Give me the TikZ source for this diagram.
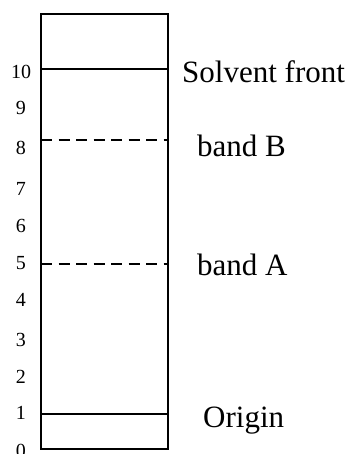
\documentclass[tikz,border=0pt]{standalone}
\usepackage{fontspec}
\setmainfont{Liberation Serif}
\usepackage{tikz}
\usetikzlibrary{positioning}

\tikzset{
  plate/.style = {line width=1.2pt},
  front/.style = {line width=1.2pt},
  band/.style = {line width=1.2pt, dash pattern=on 11pt off 6.5pt},
  tick/.style = {inner sep=0pt, anchor=center, font=\fontsize{20}{24}\selectfont},
  tag/.style = {inner sep=0pt, anchor=base west, font=\fontsize{31}{36}\selectfont}
}

\begin{document}
\begin{tikzpicture}[x=1pt,y=-1pt]
\useasboundingbox (0,0) rectangle (353,454);

% plate
\coordinate (ptl) at (41,14);
\coordinate (pbr) at (168,449);
\draw[plate] (ptl) rectangle (pbr);

% lines across the plate
\coordinate (s1) at (41,69);   \coordinate (s2) at (168,69);
\coordinate (bB1) at (41,140); \coordinate (bB2) at (168,140);
\coordinate (bA1) at (41,264); \coordinate (bA2) at (168,264);
\coordinate (o1) at (41,414);  \coordinate (o2) at (168,414);

\draw[front] (s1) -- (s2);
\draw[band] (bB1) -- (bB2);
\draw[band] (bA1) -- (bA2);
\draw[front] (o1) -- (o2);

% scale
\node[tick] (n10) at (21,72) {10};
\node[tick] (n9) at (21,108) {9};
\node[tick] (n8) at (21,148) {8};
\node[tick] (n7) at (21,189) {7};
\node[tick] (n6) at (21,226) {6};
\node[tick] (n5) at (21,263) {5};
\node[tick] (n4) at (21,300) {4};
\node[tick] (n3) at (21,340) {3};
\node[tick] (n2) at (21,377) {2};
\node[tick] (n1) at (21,413) {1};
\node[tick] (n0) at (21,451) {0};

% labels
\node[tag] (front) at (182,83) {Solvent front};
\node[tag] (bandB) at (197,157) {band B};
\node[tag] (bandA) at (197,275) {band A};
\node[tag] (origin) at (203,427) {Origin};

\end{tikzpicture}
\end{document}
